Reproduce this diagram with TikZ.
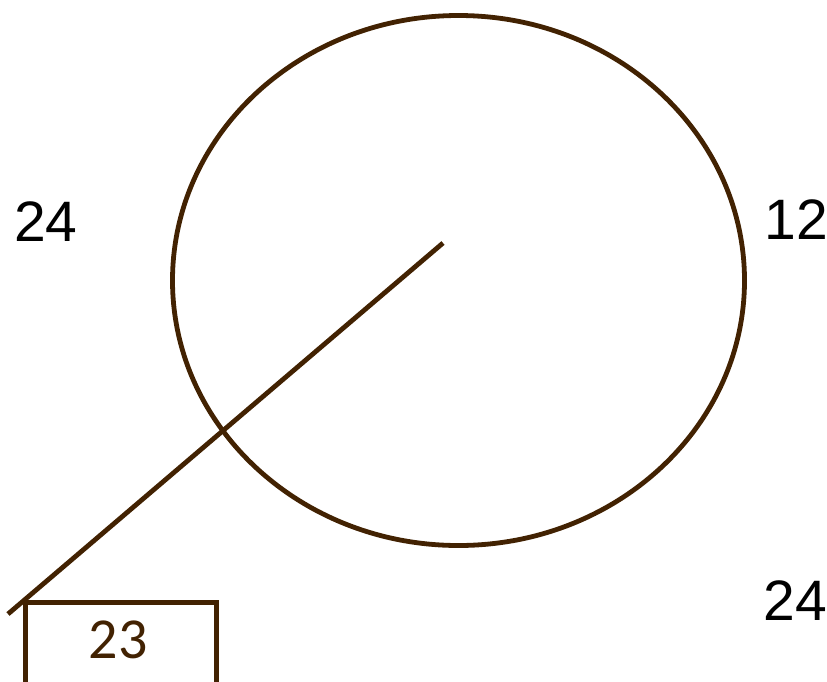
\documentclass[tikz,border=0pt]{standalone}
\usepackage{fontspec}
\setmainfont{Liberation Sans}
\newfontfamily\boxfont{Carlito}
\definecolor{brn}{RGB}{66,34,2}
\begin{document}
\begin{tikzpicture}[x=1pt,y=-1pt,
  lbl/.style={font=\fontsize{57}{60}\selectfont, text=black, inner sep=0pt},
  brline/.style={draw=brn, line width=4.8pt}]
\useasboundingbox (0,0) rectangle (827,681);
\draw[brline] (458.5,280.5) ellipse [x radius=286, y radius=265];
\coordinate (lineA) at (443,243);
\coordinate (lineB) at (8,614);
\draw[brline] (lineA) -- (lineB);
\node[brline, rectangle, minimum width=191pt, minimum height=90pt, anchor=north west, inner sep=0pt] (box) at (23,600) {};
\node[text=brn, font=\boxfont\fontsize{58}{60}\selectfont, inner sep=0pt] (boxtxt) at (118,640) {23};
\node[lbl] (l1) at (46,222) {24};
\node[lbl] (l2) at (796,220) {12};
\node[lbl] (l3) at (795,601) {24};
\end{tikzpicture}
\end{document}
